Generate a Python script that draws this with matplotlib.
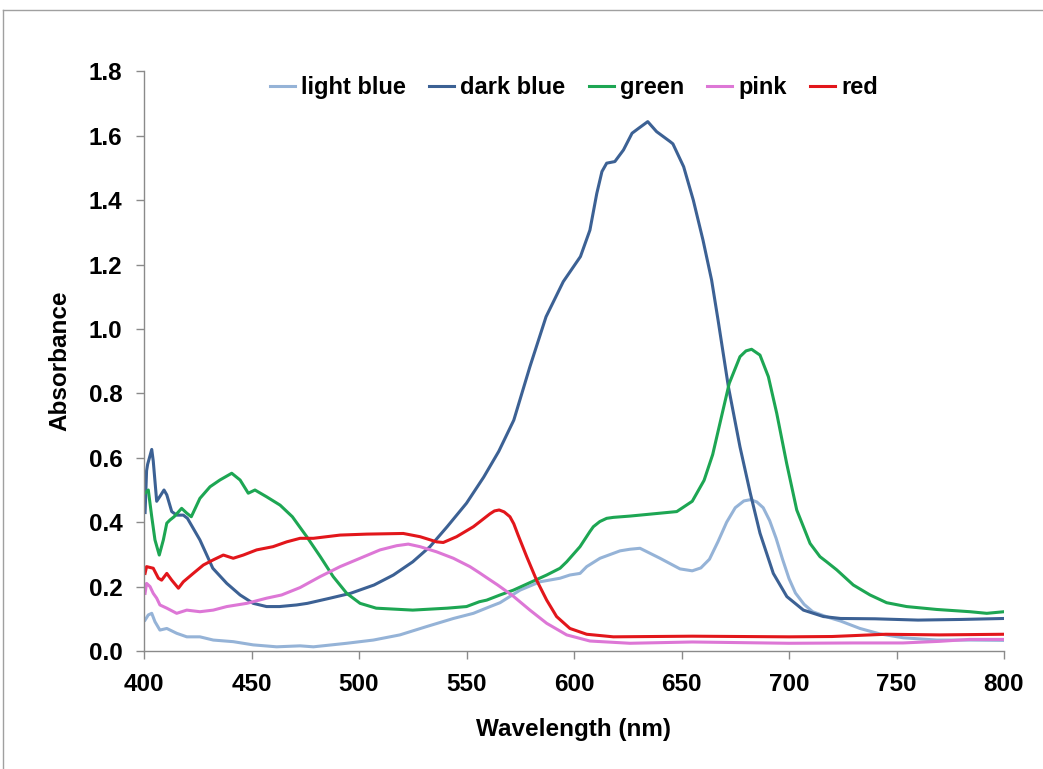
import matplotlib
matplotlib.use("Agg")
import matplotlib.pyplot as plt
from matplotlib.lines import Line2D

# wavelength (nm) / absorbance
light_blue_nm = [400.5, 402, 403.6, 405.1, 407.4, 410.6, 415.2, 419.9, 426, 432.2, 441.5, 450.8,
                 461.7, 472.6, 478.8, 494.3, 506.7, 519, 531.5, 543.9, 553.2, 561, 565.6, 574.9,
                 584.2, 593.5, 598.1, 602.8, 605.9, 612.1, 621.4, 626, 630.7, 640, 643.1, 649.3,
                 655, 659, 663, 667, 671, 675, 679, 682, 685, 688, 691, 694, 697, 700, 703, 707,
                 711, 719, 724, 733, 742.3, 753.2, 768.7, 784.2, 800]
light_blue_abs = [0.096, 0.112, 0.117, 0.091, 0.065, 0.07, 0.055, 0.044, 0.044, 0.034, 0.029, 0.019,
                  0.013, 0.016, 0.013, 0.024, 0.034, 0.05, 0.076, 0.101, 0.117, 0.138, 0.15, 0.189,
                  0.215, 0.226, 0.236, 0.241, 0.262, 0.288, 0.311, 0.316, 0.319, 0.288, 0.277, 0.255,
                  0.249, 0.258, 0.285, 0.34, 0.40, 0.445, 0.466, 0.47, 0.463, 0.445, 0.405, 0.35,
                  0.285, 0.225, 0.18, 0.145, 0.122, 0.103, 0.093, 0.07, 0.053, 0.041, 0.034, 0.034,
                  0.033]

dark_blue_nm = [400.5, 401.2, 401.7, 403.6, 404.3, 405.9, 407.4, 409.3, 410.6, 412.9, 415.2, 418.3,
                420.2, 426, 432, 438.5, 444.7, 450.8, 457, 463, 471, 476, 486.5, 496, 507, 516, 525,
                533, 541, 550, 558, 565, 572, 579.5, 587, 595, 603, 607.4, 610.6, 613, 615.2, 619,
                623, 627, 630, 634.3, 638.4, 644.7, 646, 651, 655.5, 660, 664, 667, 671.8, 677.2,
                682, 686.5, 692.7, 699, 706.7, 716, 724, 740, 760, 780, 800]
dark_blue_abs = [0.43, 0.56, 0.58, 0.626, 0.59, 0.465, 0.48, 0.50, 0.485, 0.433, 0.422, 0.422,
                 0.412, 0.345, 0.257, 0.21, 0.174, 0.148, 0.138, 0.138, 0.143, 0.148, 0.164, 0.179,
                 0.205, 0.236, 0.277, 0.324, 0.386, 0.459, 0.54, 0.62, 0.717, 0.883, 1.038, 1.147,
                 1.225, 1.307, 1.421, 1.489, 1.515, 1.52, 1.556, 1.608, 1.623, 1.644, 1.613, 1.582,
                 1.575, 1.504, 1.40, 1.276, 1.152, 1.028, 0.821, 0.634, 0.49, 0.366, 0.241, 0.169,
                 0.127, 0.107, 0.101, 0.10, 0.096, 0.098, 0.101]

green_nm = [400.5, 402, 403.6, 405.1, 407.1, 409, 410.6, 412.1, 414, 417.5, 419.9, 422, 426, 430.7,
            435.3, 440.8, 444.7, 448.5, 451.6, 457, 463.3, 469, 475.7, 482, 488, 494.3, 500.5, 508,
            525, 541, 550, 556, 559.4, 565.6, 571.8, 587.3, 593.5, 596.6, 602.8, 607.4, 609, 612,
            615.2, 618.3, 626, 630.7, 647.8, 655, 660.5, 664.5, 668.5, 672.2, 677.2, 680, 682.6,
            686.5, 690.4, 694.3, 698.9, 703.6, 709.8, 714.4, 717.5, 722.2, 729.9, 737.7, 745.4,
            754.7, 768.7, 784.2, 792, 800]
green_abs = [0.49, 0.50, 0.417, 0.345, 0.298, 0.345, 0.397, 0.407, 0.417, 0.443, 0.428, 0.417, 0.474,
             0.51, 0.531, 0.552, 0.531, 0.49, 0.50, 0.479, 0.453, 0.417, 0.355, 0.293, 0.231, 0.179,
             0.148, 0.133, 0.127, 0.133, 0.138, 0.153, 0.158, 0.174, 0.189, 0.236, 0.257, 0.277,
             0.324, 0.371, 0.386, 0.402, 0.412, 0.415, 0.419, 0.422, 0.433, 0.465, 0.53, 0.61,
             0.725, 0.831, 0.914, 0.932, 0.937, 0.919, 0.852, 0.738, 0.583, 0.438, 0.334, 0.293,
             0.277, 0.252, 0.205, 0.174, 0.15, 0.138, 0.129, 0.122, 0.117, 0.122]

pink_nm = [400.5, 401.2, 402.8, 404.3, 405.9, 407.4, 410.6, 415.2, 419.9, 426, 432.2, 438.5, 447.8,
           457, 464, 472.6, 481.9, 491.2, 500.5, 509.8, 517.5, 522.9, 528.4, 536.1, 543.9, 551.6,
           556, 560, 564.5, 571.8, 579.5, 587.3, 596.6, 607.4, 626, 655, 700, 730, 753, 770, 784, 800]
pink_abs = [0.179, 0.21, 0.20, 0.179, 0.164, 0.143, 0.133, 0.117, 0.127, 0.122, 0.127, 0.138, 0.148,
            0.164, 0.174, 0.197, 0.231, 0.262, 0.288, 0.314, 0.327, 0.332, 0.324, 0.308, 0.288, 0.262,
            0.243, 0.225, 0.205, 0.17, 0.127, 0.086, 0.05, 0.031, 0.024, 0.028, 0.024, 0.025, 0.025,
            0.03, 0.036, 0.036]

red_nm = [400.5, 401.2, 404.3, 406.7, 408.2, 410.6, 412.9, 416, 418.3, 422.9, 427.6, 432.2, 436.9,
          441.5, 446.2, 452.4, 460, 466.4, 472.6, 478.8, 491.2, 503.6, 520.6, 528.4, 536.1, 539.2,
          545.4, 553.2, 556.3, 560.9, 563, 565.2, 567.5, 570.2, 572, 574, 578, 582.6, 587.3, 591.9,
          598.1, 605.9, 618.3, 655, 700, 720, 745, 770, 800]
red_abs = [0.241, 0.262, 0.257, 0.226, 0.22, 0.241, 0.22, 0.195, 0.215, 0.241, 0.267, 0.283, 0.298,
           0.288, 0.298, 0.314, 0.324, 0.339, 0.35, 0.35, 0.36, 0.363, 0.365, 0.355, 0.339, 0.337,
           0.355, 0.386, 0.402, 0.426, 0.435, 0.438, 0.432, 0.417, 0.395, 0.36, 0.293, 0.22, 0.158,
           0.107, 0.07, 0.052, 0.044, 0.046, 0.044, 0.045, 0.052, 0.05, 0.052]

series = [
    ("light blue", light_blue_nm, light_blue_abs, "#95B3D7"),
    ("dark blue", dark_blue_nm, dark_blue_abs, "#3C6194"),
    ("green", green_nm, green_abs, "#1DA653"),
    ("pink", pink_nm, pink_abs, "#DD77D6"),
    ("red", red_nm, red_abs, "#E2161B"),
]

plt.rcParams["font.family"] = ["Liberation Sans", "DejaVu Sans"]
plt.rcParams["font.weight"] = "bold"

fig = plt.figure(figsize=(10.43, 7.69), dpi=100)
ax = fig.add_axes([144 / 1043, 118 / 769, 860 / 1043, 579.6 / 769])

for name, nm, ab, col in series:
    ax.plot(nm, ab, color=col, lw=2.2, label=name)

ax.set_xlim(400, 800)
ax.set_ylim(0, 1.8)
ax.set_xticks(range(400, 801, 50))
ax.set_yticks([i * 0.2 for i in range(10)])
ax.set_yticklabels([f"{i * 0.2:.1f}" for i in range(10)])

gray = "#8a8a8a"
for side in ("top", "right"):
    ax.spines[side].set_visible(False)
for side in ("left", "bottom"):
    ax.spines[side].set_color(gray)
    ax.spines[side].set_linewidth(1.0)
ax.tick_params(axis="both", direction="out", length=5.5, width=1.0, color=gray,
               labelsize=17.5, pad=10)

ax.set_xlabel("Wavelength (nm)", fontsize=17.5, fontweight="bold")
ax.set_ylabel("Absorbance", fontsize=17.5, fontweight="bold")
ax.xaxis.set_label_coords(0.5, -0.115)
ax.yaxis.set_label_coords(-0.085, 0.5)

leg = ax.legend(loc="center", bbox_to_anchor=(0.5, 0.972), ncol=5, frameon=False,
                fontsize=17, handlelength=1.05, handletextpad=0.25, columnspacing=1.0,
                borderaxespad=0)

# light outer chart border (only top and left edges are in frame)
fig.add_artist(Line2D([3 / 1043, 1], [1 - 10 / 769, 1 - 10 / 769], transform=fig.transFigure,
                      color="#a0a0a0", lw=1))
fig.add_artist(Line2D([3 / 1043, 3 / 1043], [0, 1 - 10 / 769], transform=fig.transFigure,
                      color="#a0a0a0", lw=1))

fig.savefig("out.png", dpi=100, facecolor="white")
